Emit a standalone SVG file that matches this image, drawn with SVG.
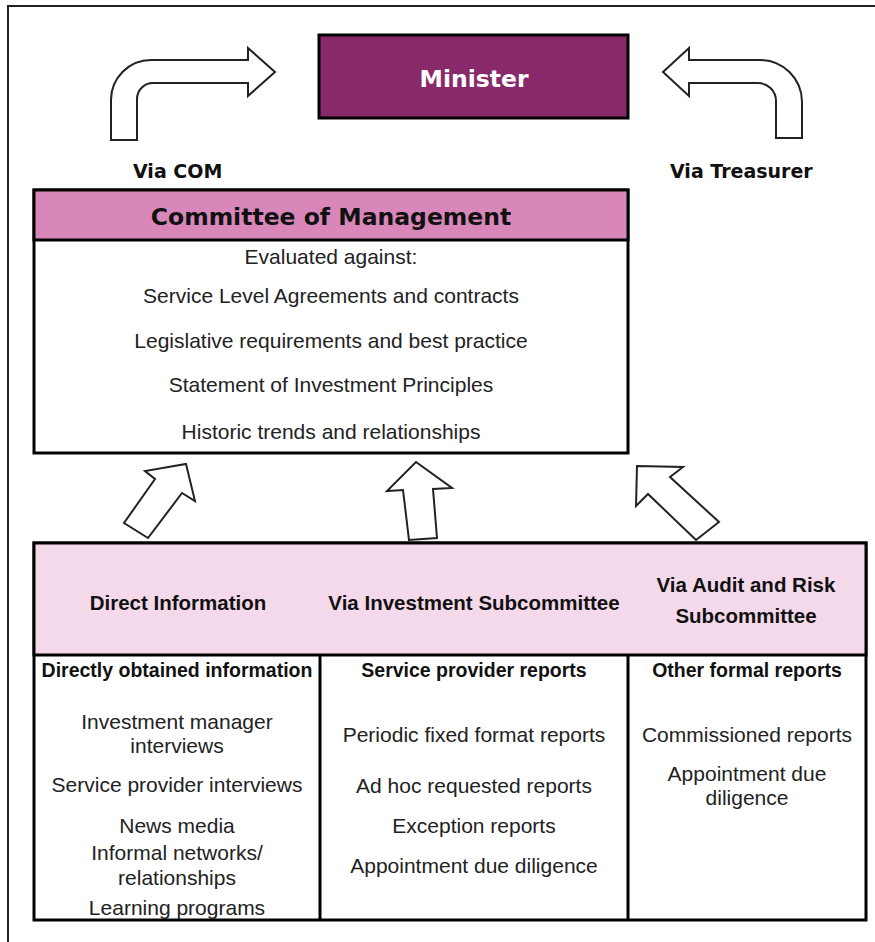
<svg xmlns="http://www.w3.org/2000/svg" width="875" height="942" viewBox="0 0 875 942">
<style>
.frame{fill:none;stroke:#222;stroke-width:2}
.box{stroke:#000;stroke-width:3}
.arrow{fill:#fff;stroke:#222;stroke-width:2;stroke-linejoin:miter}
.line{stroke:#000;stroke-width:3}
.title{font-family:"DejaVu Sans",Verdana,sans-serif;font-weight:bold;text-anchor:middle}
.via{font-family:"DejaVu Sans",Verdana,sans-serif;font-weight:bold;font-size:19px;fill:#111}
.body{font-family:"Liberation Sans",Arial,sans-serif;font-size:21px;fill:#222;text-anchor:middle}
.hdr{font-family:"Liberation Sans",Arial,sans-serif;font-weight:bold;font-size:20.5px;fill:#111;text-anchor:middle}
.col{font-family:"Liberation Sans",Arial,sans-serif;font-weight:bold;font-size:19.5px;fill:#111;text-anchor:middle}
</style>
<rect x="0" y="0" width="875" height="942" fill="#fff"/>
<path class="frame" d="M8 942 V6 H875"/>

<g id="connectors">
  <path class="arrow" d="M111 140 V100 A40 40 0 0 1 151 60 H248 V48 L275 72 L248 96 V83 H153 A16 16 0 0 0 137 99 V140 Z"/>
  <path class="arrow" d="M802 138 V102 A42 42 0 0 0 760 60 H689 V48 L663 72 L689 96 V83 H758 A18 18 0 0 1 776 101 V138 Z"/>
  <polygon class="arrow" points="186,464 195,501 182,493 148,538 124,523 155,479 145,471"/>
  <polygon class="arrow" points="416,462 452,488 433,489 437,538 409,540 403,490 387,491"/>
  <polygon class="arrow" points="637,466 683,467 670,477 719,522 696,540 648,494 636,506"/>
</g>

<g id="minister">
  <rect class="box" x="319" y="35" width="309" height="83" fill="#88296a"/>
  <text class="title" x="474" y="87" font-size="23.5" fill="#fff">Minister</text>
</g>

<g id="via-com">
  <text class="via" x="133" y="178">Via COM</text>
</g>
<g id="via-treasurer">
  <text class="via" x="670" y="178">Via Treasurer</text>
</g>

<g id="committee">
  <rect class="box" x="34" y="190" width="594" height="263" fill="#fff"/>
  <rect class="box" x="34" y="190" width="594" height="50" fill="#d987ba"/>
  <text class="title" x="331" y="225" font-size="23.5" fill="#111">Committee of Management</text>
  <text class="body" x="331" y="264">Evaluated  against:</text>
  <text class="body" x="331" y="303">Service Level Agreements and contracts</text>
  <text class="body" x="331" y="348">Legislative requirements and best practice</text>
  <text class="body" x="331" y="392">Statement of Investment Principles</text>
  <text class="body" x="331" y="439">Historic trends and relationships</text>
</g>

<g id="sources">
  <rect class="box" x="34" y="543" width="832" height="377" fill="#fff"/>
  <rect class="box" x="34" y="543" width="832" height="112" fill="#f3d9ea"/>
  <line class="line" x1="320" y1="655" x2="320" y2="920"/>
  <line class="line" x1="628" y1="655" x2="628" y2="920"/>
</g>

<g id="direct-information">
  <text class="hdr" x="178" y="610">Direct Information</text>
  <text class="col" x="177" y="677">Directly obtained information</text>
  <text class="body" x="177" y="729">Investment manager</text>
  <text class="body" x="177" y="753">interviews</text>
  <text class="body" x="177" y="792">Service provider interviews</text>
  <text class="body" x="177" y="833">News media</text>
  <text class="body" x="177" y="860">Informal networks/</text>
  <text class="body" x="177" y="885">relationships</text>
  <text class="body" x="177" y="915">Learning programs</text>
</g>

<g id="investment-subcommittee">
  <text class="hdr" x="474" y="610">Via Investment Subcommittee</text>
  <text class="col" x="474" y="677">Service provider reports</text>
  <text class="body" x="474" y="742">Periodic fixed format reports</text>
  <text class="body" x="474" y="793">Ad hoc requested reports</text>
  <text class="body" x="474" y="833">Exception reports</text>
  <text class="body" x="474" y="873">Appointment due diligence</text>
</g>

<g id="audit-risk-subcommittee">
  <text class="hdr" x="746" y="592">Via Audit and Risk</text>
  <text class="hdr" x="746" y="623">Subcommittee</text>
  <text class="col" x="747" y="677">Other formal reports</text>
  <text class="body" x="747" y="742">Commissioned reports</text>
  <text class="body" x="747" y="781">Appointment due</text>
  <text class="body" x="747" y="805">diligence</text>
</g>
</svg>
